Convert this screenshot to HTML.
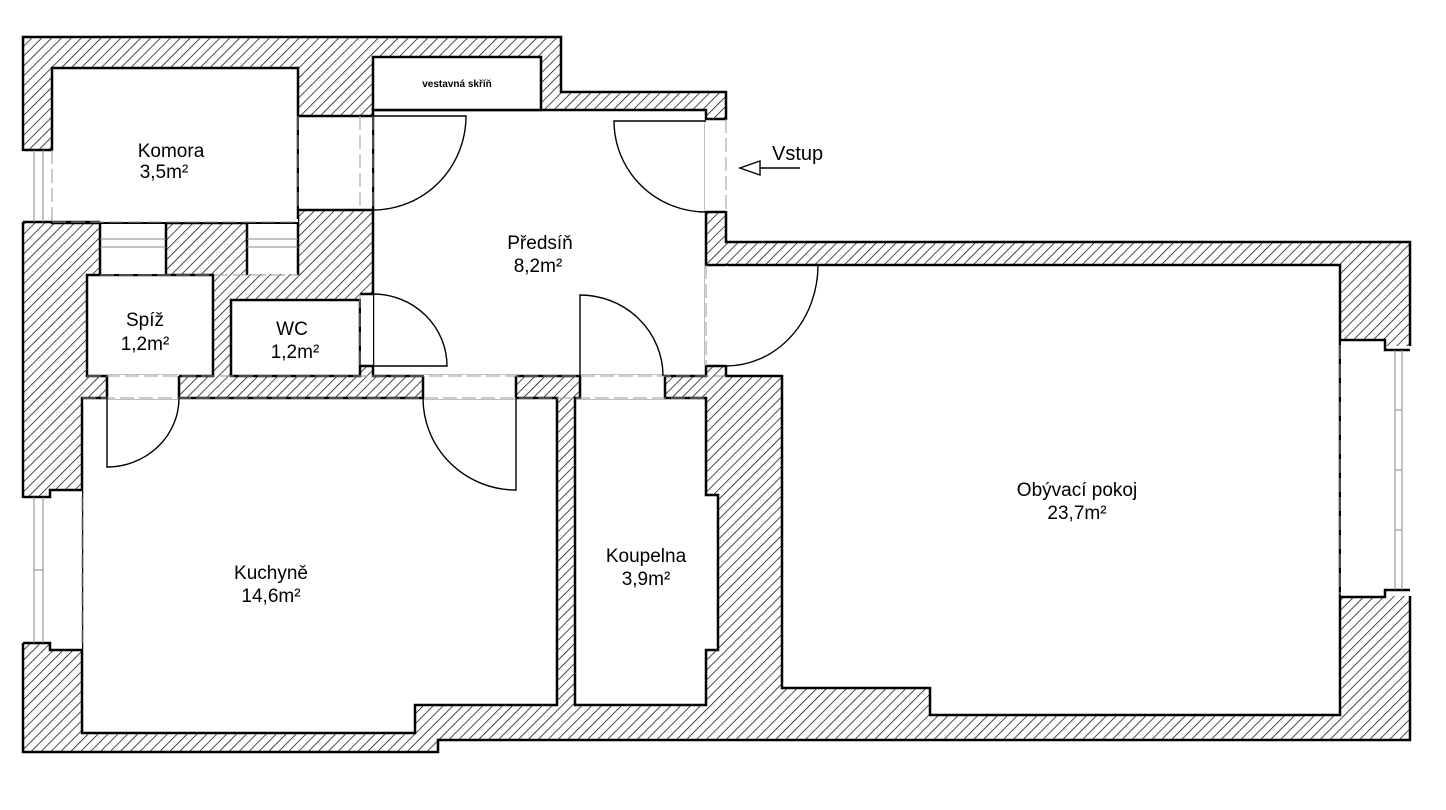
<!DOCTYPE html>
<html><head><meta charset="utf-8"><style>
html,body{margin:0;padding:0;background:#fff;}
svg{display:block;}
text{font-family:"Liberation Sans",Arial,sans-serif;fill:#000;}
</style></head><body>
<svg width="1446" height="810" viewBox="0 0 1446 810" xmlns="http://www.w3.org/2000/svg">
<defs>
<pattern id="h" width="7" height="7" patternUnits="userSpaceOnUse" patternTransform="rotate(45)">
<line x1="0" y1="0" x2="0" y2="7" stroke="#000" stroke-width="1.4"/>
</pattern>
</defs>
<rect width="1446" height="810" fill="#fff"/>
<polygon points="23,37 561,37 561,92 726,92 726,242 1410,242 1410,740 438,740 438,752 23,752" fill="url(#h)" stroke="#000" stroke-width="2.5"/>
<g fill="#fff" stroke="#000" stroke-width="2.5">
<rect x="52" y="68" width="246" height="155"/>
<rect x="373" y="110" width="333" height="266"/>
<rect x="373" y="57" width="168" height="53"/>
<rect x="87" y="275" width="126" height="101"/>
<rect x="231" y="300" width="129" height="76"/>
<polygon points="82,398 557,398 557,705 415,705 415,733 82,733"/>
<polygon points="575,398 706,398 706,495 718,495 718,650 706,650 706,705 575,705"/>
<polygon points="726,265 1340,265 1340,715 930,715 930,688 782,688 782,376 726,376"/>
</g>
<g fill="#fff" stroke="none">
<rect x="21" y="151" width="33" height="71"/>
<rect x="53" y="219" width="245" height="3"/>
<rect x="101" y="224" width="65" height="50"/>
<rect x="248" y="224" width="50" height="50"/>
<rect x="299" y="117" width="73" height="92"/>
<rect x="361" y="295" width="12" height="70"/>
<rect x="705" y="120" width="23" height="91"/>
<rect x="705" y="266" width="23" height="99"/>
<rect x="108" y="375" width="71" height="24"/>
<rect x="424" y="375" width="92" height="24"/>
<rect x="581" y="375" width="83" height="24"/>
<rect x="21" y="498" width="61" height="145"/>
<rect x="51" y="491" width="31" height="8"/>
<rect x="51" y="642" width="31" height="8"/>
<rect x="1341" y="346" width="71" height="250"/>
<rect x="1341" y="341" width="44" height="6"/>
<rect x="1341" y="593" width="44" height="5"/>
</g>
<g stroke="#000" stroke-width="2.5" fill="none">
<polyline points="23,150 52,150"/>
<polyline points="23,222 100,222"/>
<polyline points="298,116 373,116"/>
<polyline points="298,210 373,210"/>
<polyline points="360,294 373,294"/>
<polyline points="360,366 373,366"/>
<polyline points="706,119 726,119"/>
<polyline points="706,212 726,212"/>
<polyline points="706,265 726,265"/>
<polyline points="706,366 726,366"/>
<polyline points="107,376 107,398"/><polyline points="179,376 179,398"/>
<polyline points="423,376 423,398"/><polyline points="516,376 516,398"/>
<polyline points="580,376 580,398"/><polyline points="665,376 665,398"/>
<polyline points="23,497 50,497 50,490 82,490"/>
<polyline points="23,643 50,643 50,650 82,650"/>
<polyline points="1340,340 1385,340 1385,350 1410,350"/>
<polyline points="1340,597 1385,597 1385,590 1410,590"/>
<polyline points="100,223 100,275"/><polyline points="166,223 166,275"/>
<polyline points="247,223 247,275"/><polyline points="298,223 298,275"/>
</g>
<g stroke="#888" stroke-width="1" fill="none">
<line x1="34" y1="150" x2="34" y2="222"/><line x1="43" y1="150" x2="43" y2="222"/>
<line x1="100" y1="239" x2="166" y2="239"/><line x1="100" y1="247" x2="166" y2="247"/>
<line x1="247" y1="239" x2="298" y2="239"/><line x1="247" y1="247" x2="298" y2="247"/>
<line x1="34" y1="497" x2="34" y2="643"/><line x1="43" y1="497" x2="43" y2="643"/><line x1="34" y1="570" x2="43" y2="570"/>
<line x1="1395" y1="350" x2="1395" y2="590"/><line x1="1402" y1="350" x2="1402" y2="590"/><line x1="1395" y1="410" x2="1402" y2="410"/><line x1="1395" y1="470" x2="1402" y2="470"/><line x1="1395" y1="530" x2="1402" y2="530"/>
</g>
<g stroke="#999" stroke-width="1" fill="none" stroke-dasharray="14,5">
<line x1="52" y1="150" x2="52" y2="222"/>
<line x1="52" y1="222" x2="298" y2="222"/>
<line x1="100" y1="275" x2="298" y2="275"/>
<line x1="298" y1="116" x2="298" y2="210"/>
<line x1="360" y1="116" x2="360" y2="210"/>
<line x1="373" y1="116" x2="373" y2="210"/>
<line x1="360" y1="294" x2="360" y2="366"/>
<line x1="726" y1="119" x2="726" y2="212"/>
<line x1="706" y1="265" x2="706" y2="366"/>
<line x1="87" y1="376" x2="726" y2="376"/>
<line x1="82" y1="398" x2="706" y2="398"/>
<line x1="82" y1="497" x2="82" y2="643"/>
<line x1="1340" y1="345" x2="1340" y2="595"/>
</g>
<g stroke="#000" stroke-width="1.4" fill="none">
<path d="M373,116 L466,116 A93,94 0 0 1 373,210"/>
<path d="M706,121 L614,121 A92,91 0 0 0 706,212"/>
<path d="M373,366 L447,366 A74,72 0 0 0 373,294"/>
<path d="M107,398 L107,467 A72,69 0 0 0 179,398"/>
<path d="M516,398 L516,490 A93,92 0 0 1 423,398"/>
<path d="M580,376 L580,295 A83,81 0 0 1 663,376"/>
<path d="M726,265 L818,265 A92,101 0 0 1 726,366"/>
<path d="M740,168 L760,161 L760,175 Z M760,168 L800,168"/>
</g>
<g font-size="19" text-anchor="middle">
<text x="171" y="157">Komora</text><text x="164" y="178">3,5m²</text>
<text x="540" y="249">Předsíň</text><text x="538" y="272">8,2m²</text>
<text x="145" y="326">Spíž</text><text x="145" y="350">1,2m²</text>
<text x="292" y="335">WC</text><text x="295" y="358">1,2m²</text>
<text x="271" y="579">Kuchyně</text><text x="271" y="602">14,6m²</text>
<text x="646" y="562">Koupelna</text><text x="646" y="585">3,9m²</text>
<text x="1077" y="496">Obývací pokoj</text><text x="1077" y="519">23,7m²</text>
</g>
<text x="772" y="160" font-size="20">Vstup</text>
<text x="457" y="87" font-size="10" font-weight="bold" text-anchor="middle">vestavná skříň</text>
</svg>
</body></html>
